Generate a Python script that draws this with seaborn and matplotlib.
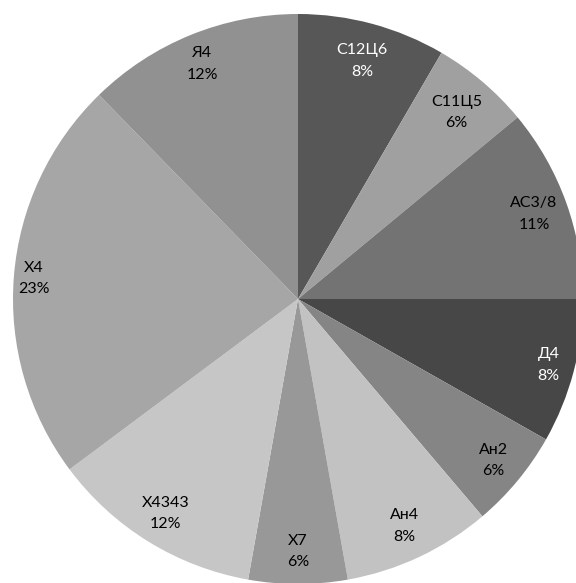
import matplotlib
matplotlib.use("Agg")
import matplotlib.pyplot as plt
import numpy as np
import seaborn as sns

sns.set_theme(style="white")
plt.rcParams["font.family"] = ["Lato", "DejaVu Sans"]

# Share of each variety (percent), clockwise from the top
names = ["С12Ц6", "С11Ц5", "АС3/8", "Д4", "Ан2", "Ан4", "Х7", "Х4343", "Х4", "Я4"]
shares = [8.4, 5.6, 11.0, 8.2, 5.6, 8.4, 5.6, 12.0, 22.9, 12.3]
colors = ["#575757", "#a0a0a0", "#737373", "#474747", "#858585",
          "#c2c2c2", "#989898", "#c6c6c6", "#a6a6a6", "#919191"]
text_colors = ["white", "black", "black", "white", "black",
               "black", "black", "black", "black", "black"]
# radial position of each label, as a fraction of the radius
label_dist = [0.865, 0.86, 0.88, 0.91, 0.89, 0.88, 0.885, 0.885, 0.93, 0.89]

W, H = 576, 583
fig = plt.figure(figsize=(W / 100, H / 100), dpi=100)
cx, cy, R = 298, 299, 285
ax = fig.add_axes([(cx - R) / W, (H - cy - R) / H, 2 * R / W, 2 * R / H])

total = sum(shares)
ax.pie(shares, colors=colors, startangle=90, counterclock=False,
       radius=1.0, wedgeprops=dict(linewidth=0))

acc = 0.0
for name, val, tc, d in zip(names, shares, text_colors, label_dist):
    mid = acc + val / 2
    acc += val
    ang = np.deg2rad(90 - 360 * mid / total)
    ax.text(d * np.cos(ang), d * np.sin(ang),
            f"{name}\n{round(100 * val / total):.0f}%",
            ha="center", va="center", fontsize=11.5, color=tc, linespacing=1.65)

ax.set_xlim(-1, 1)
ax.set_ylim(-1, 1)
ax.axis("off")
fig.savefig("out.png", dpi=100)
